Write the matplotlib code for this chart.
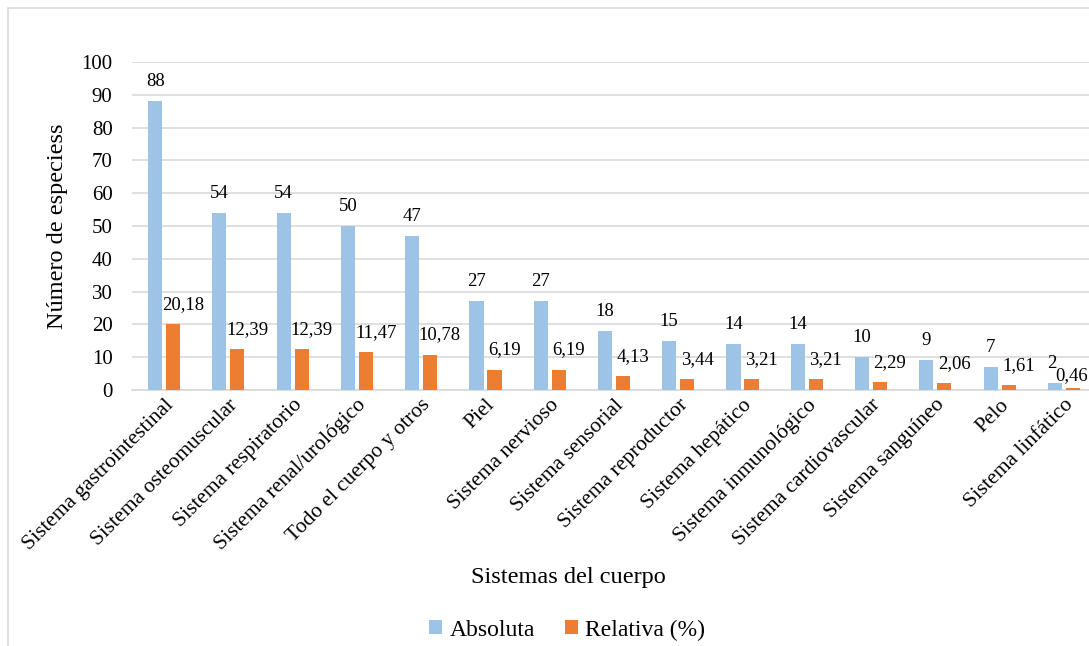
import matplotlib.pyplot as plt
import numpy as np
from matplotlib.patches import Rectangle

plt.rcParams['font.family'] = ['Liberation Serif', 'DejaVu Serif']

sistemas = ['Sistema gastrointestinal', 'Sistema osteomuscular', 'Sistema respiratorio',
            'Sistema renal/urológico', 'Todo el cuerpo y otros', 'Piel', 'Sistema nervioso',
            'Sistema sensorial', 'Sistema reproductor', 'Sistema hepático',
            'Sistema inmunológico', 'Sistema cardiovascular', 'Sistema sanguíneo', 'Pelo',
            'Sistema linfático']
absoluta = [88, 54, 54, 50, 47, 27, 27, 18, 15, 14, 14, 10, 9, 7, 2]
relativa = [20.18, 12.39, 12.39, 11.47, 10.78, 6.19, 6.19, 4.13, 3.44, 3.21, 3.21, 2.29, 2.06, 1.61, 0.46]

blue = '#9DC3E6'
orange = '#ED7D31'
gris = '#D9D9D9'

fig = plt.figure(figsize=(10.89, 6.46), dpi=100)
# el área del gráfico sigue un poco más allá del borde derecho (imagen recortada)
ax = fig.add_axes([132 / 1089, 1 - 390 / 646, (1096 - 132) / 1089, (390 - 62) / 646])

# marco del gráfico
fig.patches.append(Rectangle((8 / 1089, -0.1), 1.2, 1 - 8 / 646 + 0.1, transform=fig.transFigure,
                             fill=False, edgecolor=gris, linewidth=1.2))

x = np.arange(len(sistemas))
w = 0.22
b1 = ax.bar(x - 0.14, absoluta, w, color=blue, label='Absoluta', zorder=3)
b2 = ax.bar(x + 0.14, relativa, w, color=orange, label='Relativa (%)', zorder=3)

n = len(sistemas)
for i, (rect, v) in enumerate(zip(b1, absoluta)):
    dx = 0 if i < n - 1 else -2.5
    ax.annotate(str(v), (rect.get_x() + rect.get_width() / 2, rect.get_height()),
                xytext=(dx, 8), textcoords='offset points', ha='center', va='bottom', fontsize=13.5)
for i, (rect, v) in enumerate(zip(b2, relativa)):
    # la última etiqueta se corre para que quepa dentro del gráfico
    dx, dy = (7, 8) if i < n - 1 else (-1, 3)
    ax.annotate(f'{v:.2f}'.replace('.', ','), (rect.get_x() + rect.get_width() / 2, rect.get_height()),
                xytext=(dx, dy), textcoords='offset points', ha='center', va='bottom', fontsize=13.5)

ax.set_xlim(-0.5, n - 0.5)
ax.set_ylim(0, 100)
ax.set_yticks(range(0, 101, 10))
ax.yaxis.grid(True, color=gris, linewidth=1.2, zorder=0)
ax.set_axisbelow(True)
for s in ['top', 'right', 'left']:
    ax.spines[s].set_visible(False)
ax.spines['bottom'].set_color(gris)
ax.spines['bottom'].set_linewidth(1.2)
ax.tick_params(axis='y', length=0, labelsize=15, pad=14)
ax.tick_params(axis='x', length=0, labelsize=15.5, pad=4)
ax.set_xticks(x)
ax.set_xticklabels(sistemas, rotation=45, ha='right', rotation_mode='anchor')

ax.set_ylabel('Número de especiess', fontsize=17.5, labelpad=10)
fig.text(0.522, 1 - 578 / 646, 'Sistemas del cuerpo', ha='center', va='center', fontsize=17.5)

fig.legend(handles=[b1, b2], loc='center', bbox_to_anchor=(0.521, 1 - 630 / 646), ncol=2,
           frameon=False, fontsize=17, handlelength=0.55, handleheight=0.55,
           handletextpad=0.3, columnspacing=1.3)

fig.savefig('out.png', dpi=100)
